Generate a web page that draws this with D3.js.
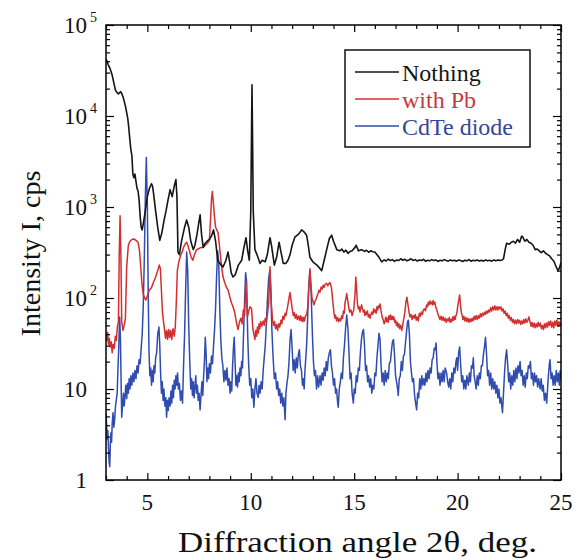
<!DOCTYPE html>
<html>
<head>
<meta charset="utf-8">
<script src="https://cdn.jsdelivr.net/npm/d3@7"></script>
<style>
  body { margin: 0; background: #fff; }
  svg { display: block; }
  svg text { font-family: "Liberation Serif", "Times New Roman", serif; }
  .frame { fill: none; stroke: #000; stroke-width: 1.5; }
  .axis path { display: none; }
  .axis line { stroke: #000; stroke-width: 1.2; }
  .trace { fill: none; stroke-linejoin: round; }
</style>
</head>
<body>
<svg width="577" height="559"></svg>
<script>
const svg = d3.select("svg");
const serif = "'Liberation Serif', 'Times New Roman', serif";

const plotLeft = 106, plotRight = 561, plotTop = 25, plotBottom = 480;

// series names and colours
const seriesNames = ["Nothing", "with Pb", "CdTe diode"];
const seriesColors = ["#151515", "#d32f2f", "#2f4cae"];
const legendTextColors = ["#151515", "#c8383e", "#33479a"];

const xMajor = [5, 10, 15, 20, 25];
const yMajor = [1, 10, 100, 1000, 10000, 100000];

// [2theta, counts]
const nothing = [
  [3.00,42000],[3.05,40000],[3.1,37000],[3.2,33000],[3.3,28000],[3.4,22000],[3.45,19500],[3.5,18500],
  [3.6,17500],[3.7,18500],[3.76,17800],[3.85,15500],[3.95,12500],[4.05,9500],[4.1,7500],[4.15,5600],
  [4.2,4300],[4.25,3700],[4.3,2300],[4.35,2100],[4.4,2300],[4.45,1900],[4.5,1600],[4.55,1500],[4.6,1200],
  [4.65,800],[4.7,600],[4.75,560],[4.8,650],[4.9,900],[5.0,1300],[5.1,1600],[5.2,1800],[5.25,1700],
  [5.3,1400],[5.4,900],[5.5,600],[5.6,430],[5.7,520],[5.8,700],[5.9,900],[6.0,1200],[6.1,1550],[6.2,1300],
  [6.3,1700],[6.38,2000],[6.43,1300],[6.48,320],[6.55,300],[6.65,420],[6.8,600],[6.9,720],[7.0,600],
  [7.1,420],[7.22,340],[7.3,380],[7.4,500],[7.5,700],[7.55,820],[7.62,500],[7.7,360],[7.8,400],[7.93,430],
  [8.0,440],[8.1,480],[8.2,560],[8.3,420],[8.4,260],[8.5,240],[8.66,220],[8.8,260],[8.9,320],[8.98,250],
  [9.05,190],[9.14,170],[9.25,180],[9.4,230],[9.56,260],[9.66,350],[9.77,460],[9.85,330],[9.93,260],
  [10.0,900],[10.04,8000],[10.06,22000],[10.08,8000],[10.12,900],[10.2,340],[10.3,300],[10.45,240],
  [10.55,260],[10.7,250],[10.8,300],[10.93,460],[11.0,380],[11.14,230],[11.25,280],[11.37,410],[11.45,330],
  [11.57,240],[11.7,240],[11.8,260],[11.9,300],[12.0,380],[12.14,470],[12.3,500],[12.46,560],[12.55,540],
  [12.7,490],[12.78,380],[12.86,280],[13.0,250],[13.2,230],[13.43,200],[13.55,260],[13.67,340],[13.8,450],
  [13.91,490],[14.0,420],[14.16,340],[14.3,330],[14.4,345],[14.5,320],[14.6,335],[14.7,310],[14.8,325],
  [14.9,330],[15.04,360],[15.1,380],[15.2,330],[15.36,340],[15.5,325],[15.6,335],[15.7,318],[15.8,330],
  [15.9,322],[16.0,320],[16.2,280],[16.33,250],[16.45,262],[16.55,255],[16.65,268],[16.75,258],[16.85,264],
  [16.95,252],[17.05,262],[17.15,258],[17.25,270],[17.35,260],[17.45,266],[17.55,256],[17.65,262],
  [17.75,270],[17.85,258],[17.95,264],[18.05,255],[18.15,262],[18.25,258],[18.35,266],[18.45,254],
  [18.55,260],[18.65,256],[18.75,264],[18.85,258],[18.95,262],[19.05,252],[19.15,260],[19.25,256],
  [19.35,264],[19.45,258],[19.55,254],[19.65,262],[19.75,256],[19.85,260],[19.95,254],[20.05,262],
  [20.15,258],[20.25,252],[20.35,260],[20.45,256],[20.55,264],[20.65,254],[20.75,260],[20.85,256],
  [20.95,262],[21.05,255],[21.15,260],[21.25,254],[21.35,262],[21.45,256],[21.55,260],[21.65,254],
  [21.75,262],[21.85,256],[21.95,262],[22.05,258],[22.15,262],[22.22,270],[22.3,340],[22.37,400],
  [22.5,390],[22.6,410],[22.7,420],[22.8,400],[22.9,440],[23.0,410],[23.1,480],[23.15,470],[23.25,420],
  [23.35,440],[23.45,410],[23.55,400],[23.65,380],[23.75,340],[23.85,345],[23.95,330],[24.05,315],
  [24.15,330],[24.25,310],[24.35,300],[24.45,290],[24.55,270],[24.65,255],[24.75,225],[24.85,200],
  [24.93,215],[25.0,245]
];

const withPb = [
  [3.0,41],[3.04,34],[3.08,42],[3.12,31],[3.16,36],[3.2,29],[3.25,33],[3.3,25],[3.34,31],[3.4,28],
  [3.45,38],[3.5,34],[3.55,48],[3.6,55],[3.64,300],[3.68,800],[3.72,300],[3.76,55],[3.82,44],[3.88,50],
  [3.94,60],[4.0,220],[4.08,380],[4.16,420],[4.25,440],[4.35,445],[4.45,430],[4.55,410],[4.62,330],
  [4.68,220],[4.74,140],[4.8,110],[4.87,100],[4.93,95],[5.0,105],[5.07,118],[5.13,125],[5.2,130],
  [5.3,150],[5.4,170],[5.5,200],[5.58,230],[5.63,210],[5.68,120],[5.73,70],[5.78,55],[5.83,45],[5.88,36],
  [5.93,44],[5.98,35],[6.03,45],[6.08,37],[6.13,44],[6.18,35],[6.24,46],[6.3,38],[6.35,48],[6.4,90],
  [6.45,200],[6.52,250],[6.6,290],[6.66,310],[6.75,360],[6.85,400],[6.9,410],[6.97,370],[7.05,320],
  [7.12,280],[7.2,260],[7.28,300],[7.38,340],[7.5,350],[7.6,360],[7.7,360],[7.8,380],[7.9,400],[8.0,430],
  [8.05,700],[8.1,1200],[8.14,1480],[8.18,1200],[8.24,800],[8.3,600],[8.42,520],[8.5,350],[8.58,230],
  [8.66,170],[8.75,145],[8.83,130],[8.9,123],[9.0,100],[9.07,88],[9.14,80],[9.22,70],[9.3,55],[9.38,45],
  [9.45,54],[9.52,60],[9.58,52],[9.64,74],[9.7,64],[9.77,150],[9.84,62],[9.9,72],[9.96,80],[10.04,76],
  [10.1,46],[10.15,40],[10.2,35],[10.24,44],[10.28,38],[10.32,48],[10.36,41],[10.4,52],[10.44,46],
  [10.48,55],[10.53,49],[10.6,56],[10.65,50],[10.7,60],[10.75,55],[10.8,64],[10.87,90],[10.93,220],
  [10.99,90],[11.05,58],[11.1,50],[11.15,55],[11.2,46],[11.25,51],[11.3,44],[11.35,52],[11.4,48],
  [11.46,57],[11.5,52],[11.55,63],[11.6,58],[11.66,68],[11.7,64],[11.78,80],[11.85,100],[11.9,115],
  [11.96,90],[12.02,72],[12.06,64],[12.1,69],[12.15,60],[12.2,66],[12.25,58],[12.3,63],[12.36,57],
  [12.4,64],[12.44,56],[12.48,62],[12.52,55],[12.56,61],[12.6,56],[12.64,63],[12.7,66],[12.76,80],
  [12.82,150],[12.86,210],[12.9,150],[12.96,100],[13.02,90],[13.06,84],[13.1,92],[13.15,96],[13.2,104],
  [13.25,112],[13.3,122],[13.35,116],[13.4,132],[13.45,125],[13.5,138],[13.55,131],[13.6,142],
  [13.67,145],[13.72,136],[13.77,143],[13.83,148],[13.9,130],[13.97,90],[14.03,66],[14.07,60],
  [14.1,65],[14.15,56],[14.2,61],[14.25,55],[14.3,59],[14.35,56],[14.4,64],[14.44,60],[14.48,72],
  [14.52,68],[14.56,90],[14.6,98],[14.64,112],[14.7,90],[14.74,78],[14.78,70],[14.84,74],[14.9,64],
  [14.94,70],[14.98,74],[15.04,110],[15.08,170],[15.12,120],[15.16,86],[15.2,76],[15.24,80],[15.28,70],
  [15.32,78],[15.36,84],[15.4,76],[15.44,70],[15.48,74],[15.52,64],[15.56,70],[15.6,66],[15.64,72],
  [15.68,62],[15.72,66],[15.77,60],[15.81,66],[15.85,70],[15.9,66],[15.94,76],[15.98,70],[16.02,74],
  [16.06,68],[16.1,80],[16.14,74],[16.18,82],[16.22,78],[16.25,86],[16.3,72],[16.35,62],[16.4,58],
  [16.45,52],[16.49,56],[16.53,62],[16.56,55],[16.6,60],[16.64,54],[16.68,64],[16.72,58],[16.76,65],
  [16.8,58],[16.84,63],[16.88,58],[16.92,62],[16.96,54],[17.0,57],[17.04,50],[17.08,54],[17.12,48],
  [17.16,52],[17.2,46],[17.25,50],[17.3,44],[17.34,49],[17.38,56],[17.45,70],[17.5,90],[17.55,102],
  [17.6,84],[17.66,68],[17.7,62],[17.75,66],[17.8,58],[17.85,64],[17.9,60],[17.95,66],[18.0,57],
  [18.05,62],[18.1,56],[18.15,68],[18.2,63],[18.25,70],[18.3,66],[18.35,74],[18.4,76],[18.45,72],
  [18.5,84],[18.54,80],[18.58,90],[18.62,84],[18.67,93],[18.71,86],[18.75,90],[18.79,84],[18.82,94],
  [18.86,86],[18.9,90],[18.94,80],[18.98,76],[19.02,70],[19.06,66],[19.1,62],[19.15,58],[19.2,63],
  [19.25,57],[19.3,62],[19.35,56],[19.4,60],[19.45,54],[19.5,59],[19.55,56],[19.6,61],[19.64,54],
  [19.68,58],[19.72,55],[19.76,62],[19.8,57],[19.84,63],[19.88,58],[19.92,64],[19.96,68],[20.02,85],
  [20.06,96],[20.1,108],[20.14,84],[20.18,70],[20.22,64],[20.26,58],[20.3,63],[20.35,56],[20.4,61],
  [20.45,55],[20.5,60],[20.55,54],[20.6,59],[20.65,55],[20.7,60],[20.75,56],[20.8,63],[20.85,58],
  [20.9,64],[20.95,58],[21.0,64],[21.05,60],[21.1,67],[21.15,62],[21.2,68],[21.25,64],[21.3,70],
  [21.35,66],[21.4,72],[21.45,68],[21.5,74],[21.55,70],[21.6,78],[21.65,72],[21.7,80],[21.75,74],
  [21.8,82],[21.85,74],[21.9,80],[21.95,74],[22.0,80],[22.05,76],[22.1,80],[22.15,72],[22.2,76],
  [22.25,68],[22.3,72],[22.35,64],[22.4,68],[22.45,60],[22.5,64],[22.55,57],[22.6,61],[22.65,54],
  [22.7,58],[22.75,52],[22.8,57],[22.85,52],[22.9,58],[22.95,53],[23.0,57],[23.05,51],[23.1,56],
  [23.15,52],[23.2,58],[23.25,53],[23.3,59],[23.35,54],[23.4,57],[23.45,62],[23.5,55],[23.55,49],
  [23.6,54],[23.65,48],[23.7,53],[23.75,47],[23.8,52],[23.85,48],[23.9,54],[23.95,49],[24.0,53],
  [24.05,46],[24.1,50],[24.15,45],[24.2,52],[24.25,47],[24.3,53],[24.35,48],[24.4,55],[24.45,50],
  [24.5,56],[24.55,48],[24.6,54],[24.65,47],[24.7,56],[24.75,50],[24.8,57],[24.85,49],[24.9,55],
  [24.95,50],[25.0,54]
];

const cdte = [
  [3.0,5.5],[3.03,4],[3.06,2.8],[3.09,3.5],[3.12,2.2],[3.15,1.6],[3.18,1.4],[3.21,2.5],[3.24,3.3],
  [3.27,2.6],[3.3,4.2],[3.34,5.5],[3.38,3.8],[3.42,4.6],[3.46,6.5],[3.5,7.6],[3.54,9],[3.58,17],[3.62,30],
  [3.66,62],[3.7,35],[3.73,12],[3.76,4.9],[3.8,6.5],[3.84,9],[3.88,6.5],[3.92,8.5],[3.96,11],[4.0,7.8],
  [4.04,11.5],[4.08,9],[4.12,13],[4.16,10],[4.2,14],[4.25,11],[4.3,15],[4.35,12],[4.4,16],[4.45,13],
  [4.5,18],[4.55,15],[4.6,21],[4.65,19],[4.7,28],[4.75,40],[4.8,80],[4.85,250],[4.9,1200],
  [4.95,3500],[5.0,1000],[5.04,120],[5.08,25],[5.12,14],[5.16,17],[5.2,11],[5.24,16],[5.28,12],
  [5.32,18],[5.36,15],[5.4,22],[5.45,25],[5.5,40],[5.56,48],[5.6,30],[5.64,15],[5.68,9],[5.72,12],
  [5.76,7.5],[5.8,10],[5.85,6.5],[5.89,8],[5.93,4.9],[5.97,7.5],[6.01,5.8],[6.05,8],[6.1,6.5],
  [6.14,9.5],[6.18,7],[6.22,11],[6.26,8],[6.3,12.5],[6.34,10],[6.38,14],[6.42,11],[6.46,15],[6.5,10],
  [6.55,11.5],[6.6,7.5],[6.65,9.5],[6.7,7],[6.75,18],[6.8,40],[6.85,120],[6.9,320],[6.95,200],[7.0,50],
  [7.05,20],[7.1,10],[7.14,13],[7.18,8.5],[7.22,12],[7.26,8],[7.3,10.5],[7.34,14],[7.38,9],[7.42,11],
  [7.46,7.5],[7.5,9],[7.55,5.9],[7.6,9],[7.64,12],[7.68,8.5],[7.72,14],[7.76,20],[7.8,37],[7.84,25],
  [7.88,12],[7.92,17],[7.96,13],[8.0,19],[8.05,15],[8.1,23],[8.15,19],[8.2,30],[8.25,45],[8.3,80],
  [8.35,180],[8.4,330],[8.45,250],[8.5,80],[8.55,35],[8.6,22],[8.65,18],[8.7,12],[8.75,16],[8.8,12.5],
  [8.85,17],[8.9,11],[8.95,13],[9.0,9],[9.04,12],[9.08,9.5],[9.12,18],[9.16,28],[9.2,37],[9.24,20],
  [9.28,11],[9.32,14],[9.36,10.5],[9.4,15],[9.44,12],[9.48,17],[9.52,14],[9.56,20],[9.6,17],[9.65,40],
  [9.7,90],[9.75,190],[9.8,150],[9.85,40],[9.9,18],[9.95,11],[10.0,13],[10.05,8],[10.1,10],[10.15,6.3],
  [10.2,10],[10.25,13],[10.3,9],[10.36,8.1],[10.4,11],[10.45,9],[10.5,12],[10.55,10],[10.6,16],
  [10.65,22],[10.7,30],[10.75,50],[10.8,90],[10.86,160],[10.92,200],[10.97,120],[11.02,45],[11.08,22],
  [11.14,13],[11.2,15],[11.25,10],[11.3,12],[11.35,8.5],[11.4,10],[11.45,7],[11.5,9],[11.55,6.5],[11.6,8],
  [11.66,4.6],[11.7,9],[11.75,11.6],[11.8,14],[11.85,20],[11.9,35],[11.95,45],[12.0,28],[12.05,16],
  [12.1,21],[12.15,15],[12.2,22],[12.25,17],[12.3,24],[12.35,27],[12.4,18],[12.45,16],[12.5,11],
  [12.54,13],[12.58,10],[12.62,16],[12.66,22],[12.7,30],[12.75,60],[12.8,130],[12.86,200],[12.92,110],
  [12.98,40],[13.03,20],[13.08,14],[13.13,16],[13.18,10],[13.23,14],[13.28,10.5],[13.35,14],[13.4,11],
  [13.45,15],[13.5,12.5],[13.55,17],[13.6,14],[13.65,20],[13.7,16],[13.75,22],[13.8,25],[13.85,27],
  [13.9,18],[13.95,15],[14.0,11],[14.05,13],[14.1,9],[14.15,10],[14.2,7],[14.23,6.3],[14.28,10],
  [14.33,12],[14.38,15],[14.43,13],[14.48,22],[14.53,30],[14.58,45],[14.64,65],[14.7,45],[14.75,25],
  [14.8,13],[14.85,15],[14.9,9],[14.96,7],[15.0,10],[15.05,9],[15.1,14],[15.15,12],[15.2,17],[15.25,16],
  [15.3,25],[15.35,35],[15.4,42],[15.45,45],[15.5,30],[15.55,16],[15.6,18],[15.65,12],[15.7,14],
  [15.75,10.5],[15.8,13],[15.85,9],[15.9,11],[15.95,10],[16.0,15],[16.05,14],[16.1,22],[16.15,30],
  [16.2,41],[16.25,35],[16.3,18],[16.35,12],[16.4,15],[16.45,11],[16.5,16],[16.55,12],[16.6,15],
  [16.65,13],[16.7,19],[16.75,20],[16.8,26],[16.85,33],[16.9,35],[16.95,24],[17.0,14],[17.05,12],
  [17.1,10],[17.13,8.5],[17.18,13],[17.23,14],[17.28,20],[17.33,16],[17.38,23],[17.43,24],[17.48,32],
  [17.53,42],[17.58,55],[17.62,57],[17.67,40],[17.72,20],[17.77,15],[17.82,12],[17.87,13],[17.92,8.5],
  [17.97,7],[18.02,5.9],[18.07,9],[18.12,8],[18.17,13],[18.22,10],[18.27,14],[18.32,11],[18.37,13],
  [18.42,11],[18.47,15],[18.52,12],[18.57,16],[18.62,13],[18.67,17],[18.72,15],[18.77,21],[18.82,22],
  [18.87,28],[18.92,27],[18.96,32],[19.0,20],[19.05,13],[19.1,15],[19.15,11],[19.2,15],[19.25,12],
  [19.3,16],[19.35,12],[19.4,17],[19.47,15],[19.52,12],[19.57,10.5],[19.62,13],[19.67,10],[19.72,15],
  [19.77,12],[19.82,17],[19.87,15],[19.92,20],[19.96,22],[20.0,16],[20.05,25],[20.1,29],[20.15,18],
  [20.2,12],[20.25,14],[20.3,10],[20.35,12.5],[20.4,10],[20.45,14],[20.52,11],[20.57,15],[20.62,12],
  [20.67,18],[20.72,17],[20.76,22],[20.8,14],[20.85,12],[20.9,10],[20.95,14],[21.0,11],[21.05,15],
  [21.1,13],[21.15,18],[21.2,18],[21.25,24],[21.3,29],[21.35,37],[21.4,24],[21.45,14],[21.5,16],
  [21.55,11],[21.6,15],[21.65,10],[21.7,13],[21.75,10],[21.8,12],[21.85,9],[21.9,11],[21.95,8],
  [22.0,10],[22.05,7],[22.1,8],[22.17,5.5],[22.22,9],[22.27,15],[22.32,22],[22.37,27],[22.42,19],
  [22.47,12],[22.52,15],[22.57,10],[22.62,14],[22.67,11],[22.72,16],[22.77,12],[22.82,17],[22.87,13],
  [22.92,18],[22.97,15],[23.02,20],[23.07,14],[23.12,16],[23.17,11],[23.22,14],[23.27,10.5],[23.32,15],
  [23.37,13],[23.42,18],[23.47,17],[23.52,20],[23.57,13],[23.62,15],[23.67,11],[23.72,15],[23.77,12],
  [23.82,14],[23.87,10.5],[23.92,13],[23.99,10],[24.04,13],[24.09,9.5],[24.14,11],[24.2,7.5],[24.25,9],
  [24.31,7],[24.36,11],[24.4,15],[24.44,19],[24.47,21],[24.52,13],[24.57,15],[24.62,11],[24.67,14],
  [24.72,11],[24.77,16],[24.82,12],[24.87,15],[24.92,11],[24.96,16],[25.0,13]
];

const allSeries = [nothing, withPb, cdte];

const x = d3.scaleLinear().domain([3, 25]).range([plotLeft, plotRight]);
const y = d3.scaleLog().domain([1, 1e5]).range([plotBottom, plotTop]);

const plot = svg.append("g");
plot.append("clipPath").attr("id", "clip")
  .append("rect").attr("x", plotLeft).attr("y", plotTop)
  .attr("width", plotRight - plotLeft).attr("height", plotBottom - plotTop);

const line = d3.line().x(d => x(d[0])).y(d => y(d[1]));

// draw blue first, black on top
[2, 1, 0].forEach(i => {
  plot.append("path")
    .attr("class", "trace")
    .attr("clip-path", "url(#clip)")
    .attr("d", line(allSeries[i]))
    .attr("stroke", seriesColors[i])
    .attr("stroke-width", i === 0 ? 1.6 : 1.5);
});

// x ticks (inward) bottom and top
const xMinor = d3.range(3, 26, 1).filter(v => !xMajor.includes(v));
svg.append("g").attr("class", "axis").attr("transform", `translate(0,${plotBottom})`)
  .call(d3.axisBottom(x).tickValues(xMinor).tickSizeInner(-4).tickSizeOuter(0).tickFormat(""));
svg.append("g").attr("class", "axis").attr("transform", `translate(0,${plotBottom})`)
  .call(d3.axisBottom(x).tickValues(xMajor).tickSizeInner(-7).tickSizeOuter(0).tickFormat(""));
svg.append("g").attr("class", "axis").attr("transform", `translate(0,${plotTop})`)
  .call(d3.axisTop(x).tickValues(xMinor).tickSizeInner(-4).tickSizeOuter(0).tickFormat(""));
svg.append("g").attr("class", "axis").attr("transform", `translate(0,${plotTop})`)
  .call(d3.axisTop(x).tickValues(xMajor).tickSizeInner(-7).tickSizeOuter(0).tickFormat(""));

// x tick labels
svg.append("g").selectAll("text")
  .data(xMajor).join("text")
  .attr("x", d => x(d)).attr("y", 510)
  .attr("text-anchor", "middle").attr("fill", "#111")
  .style("font-family", serif).style("font-size", "23px")
  .text(d => d);

// y ticks (inward) left and right
const yMinor = [];
yMajor.slice(0, -1).forEach(p => d3.range(2, 10).forEach(m => yMinor.push(p * m)));

svg.append("g").attr("class", "axis").attr("transform", `translate(${plotLeft},0)`)
  .call(d3.axisLeft(y).tickValues(yMinor).tickSizeInner(-4).tickSizeOuter(0).tickFormat(""));
svg.append("g").attr("class", "axis").attr("transform", `translate(${plotLeft},0)`)
  .call(d3.axisLeft(y).tickValues(yMajor).tickSizeInner(-8).tickSizeOuter(0).tickFormat(""));
svg.append("g").attr("class", "axis").attr("transform", `translate(${plotRight},0)`)
  .call(d3.axisRight(y).tickValues(yMinor).tickSizeInner(-4).tickSizeOuter(0).tickFormat(""));
svg.append("g").attr("class", "axis").attr("transform", `translate(${plotRight},0)`)
  .call(d3.axisRight(y).tickValues(yMajor).tickSizeInner(-8).tickSizeOuter(0).tickFormat(""));

// y tick labels: "10" right-aligned, exponent hanging to the right
const yLab = svg.append("g");
yMajor.forEach(v => {
  const p = Math.round(Math.log10(v));
  yLab.append("text")
    .attr("x", 87).attr("y", y(v) + 8)
    .attr("text-anchor", "end").attr("fill", "#111")
    .style("font-family", serif).style("font-size", "23px")
    .text(p === 0 ? "1" : "10");
  if (p > 1) {
    yLab.append("text")
      .attr("x", 90).attr("y", y(v) - 3)
      .attr("fill", "#111")
      .style("font-family", serif).style("font-size", "14px")
      .text(p);
  }
});

svg.append("rect").attr("class", "frame")
  .attr("x", plotLeft).attr("y", plotTop)
  .attr("width", plotRight - plotLeft).attr("height", plotBottom - plotTop);

// axis titles
svg.append("text")
  .attr("x", 178).attr("y", 552)
  .attr("textLength", 359).attr("lengthAdjust", "spacingAndGlyphs")
  .attr("fill", "#111")
  .style("font-family", serif).style("font-size", "29px")
  .text("Diffraction angle 2θ, deg.");

svg.append("text")
  .attr("transform", `translate(40,${(plotTop + plotBottom) / 2 + 1}) rotate(-90)`)
  .attr("text-anchor", "middle").attr("fill", "#111")
  .style("font-family", serif).style("font-size", "28px")
  .text("Intensity I, cps");

// legend
const legend = svg.append("g");
legend.append("rect")
  .attr("x", 345).attr("y", 50).attr("width", 185).attr("height", 97)
  .attr("fill", "#fff").attr("stroke", "#111").attr("stroke-width", 1.5);
seriesNames.forEach((name, i) => {
  const ly = 72 + i * 27;
  legend.append("line")
    .attr("x1", 355).attr("x2", 399).attr("y1", ly).attr("y2", ly)
    .attr("stroke", seriesColors[i]).attr("stroke-width", 1.3);
  legend.append("text")
    .attr("x", 402).attr("y", ly + 9)
    .attr("fill", legendTextColors[i])
    .style("font-family", serif).style("font-size", "24px")
    .text(name);
});
</script>
</body>
</html>
